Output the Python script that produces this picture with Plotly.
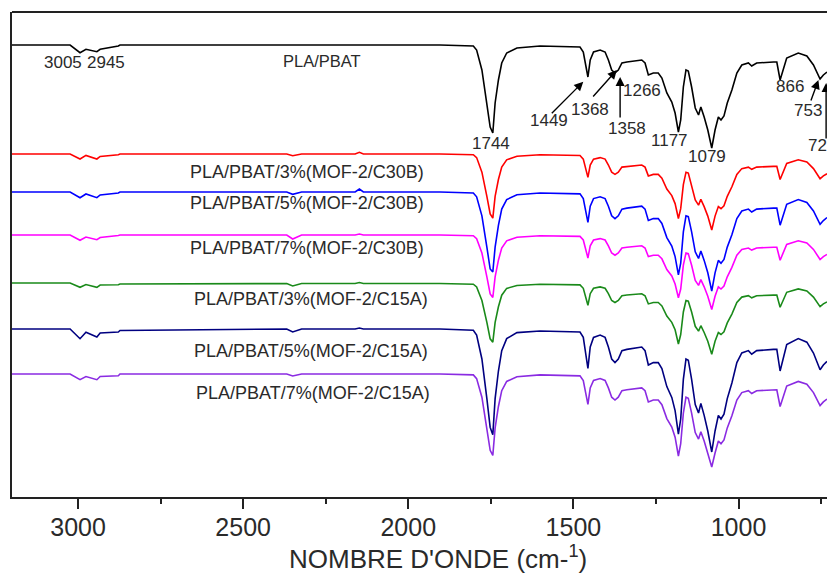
import plotly.graph_objects as go

# Wavenumbers (cm-1) shared by every spectrum
wavenumber = [3200, 3040, 3024, 2994, 2976, 2943, 2933, 2878, 2873, 2368, 2350, 2323, 2161, 2148, 2136,
              1904, 1803, 1793, 1777, 1762, 1752, 1744, 1737, 1727, 1717, 1702, 1671, 1601, 1480, 1470,
              1456, 1449, 1439, 1419, 1404, 1394, 1384, 1374, 1364, 1353, 1338, 1293, 1283, 1273, 1258,
              1243, 1232, 1217, 1202, 1192, 1182, 1175, 1167, 1159, 1152, 1142, 1131, 1121, 1114, 1104,
              1093, 1081, 1071, 1061, 1053, 1044, 1034, 1020, 1005, 990, 970, 960, 945, 894, 884,
              874, 864, 854, 819, 793, 773, 753, 743, 732]

# Stacked transmittance (offset, arbitrary units)
pla_pbat = [452, 452, 452, 444.3, 447.7, 445.3, 447.7, 451, 452, 452, 452, 452, 452, 452, 452,
            452, 451, 447, 427, 394, 370, 364, 394, 417, 434, 444, 449, 451, 450, 445,
            420, 437, 445, 447, 445, 437, 427, 424, 427, 434, 435, 437, 434, 422, 424,
            424, 419, 404, 395, 384, 365, 377, 410, 427, 426, 410, 389, 382, 390, 380,
            367, 349, 367, 380, 377, 381, 394, 407, 424, 432, 434, 431, 434, 435, 435,
            417, 427, 439, 444, 441, 432, 418, 422, 425]

c30b_3 = [343, 343, 343, 338, 341.6, 338, 340.6, 342.3, 343, 343, 341.3, 343, 343, 344.7, 343,
          343, 342.3, 339.4, 324.8, 300.7, 283.1, 278.8, 300.7, 317.5, 329.9, 337.2, 340.8, 342.3, 341.5, 337.9,
          319.6, 332, 337.9, 339.4, 337.9, 332, 324.8, 322.6, 324.8, 329.9, 330.6, 332, 329.9, 321.1, 322.6,
          322.6, 318.9, 308, 301.4, 293.4, 278.5, 288.3, 312.3, 324.8, 324, 312.3, 297, 291.9, 297.7, 290.4,
          280.9, 267, 280.9, 290.4, 288.3, 291.2, 300.7, 310.2, 322.6, 328.4, 329.9, 327.7, 329.9, 330.6, 330.6,
          317.5, 324.8, 333.5, 337.2, 335, 328.4, 318.2, 321.1, 323.3]

c30b_5 = [305, 305, 305, 299.3, 303, 299.3, 302, 304, 305, 305, 302.7, 305, 305, 308, 305,
          305, 304, 300.2, 281.2, 249.9, 228, 225, 249.9, 271.7, 287.9, 297.4, 302.2, 304, 303.1, 298.4,
          274.6, 290.8, 298.4, 300.2, 298.4, 290.8, 281.2, 278.4, 281.2, 287.9, 288.9, 290.8, 287.9, 276.5, 278.4,
          278.4, 273.6, 259.4, 250.9, 240.4, 222.2, 233.8, 265.1, 281.2, 280.3, 265.1, 245.2, 238.5, 246.1, 236.6,
          224.2, 206, 224.2, 236.6, 233.8, 237.6, 249.9, 262.2, 278.4, 286, 287.9, 285, 287.9, 288.9, 288.9,
          271.8, 281.2, 292.7, 297.4, 294.6, 286, 272.7, 276.5, 279.4]

c30b_7 = [262, 262, 262, 256.7, 260, 257.3, 259.5, 261.5, 262, 262, 258, 262, 262, 263, 262,
          262, 261.3, 258.4, 244, 220.2, 203, 199.5, 220.2, 236.8, 249, 256.2, 259.8, 261.3, 260.6, 257,
          239, 251.2, 257, 258.4, 257, 251.2, 244, 241.8, 244, 249, 249.8, 251.2, 249, 240.4, 241.8,
          241.8, 238.2, 227.4, 221, 213, 199.2, 208, 231.8, 244, 243.3, 231.8, 216.6, 211.6, 217.4, 210.2,
          200.8, 187.5, 200.8, 210.2, 208, 210.9, 220.2, 229.6, 241.8, 247.6, 249, 246.9, 249, 249.8, 249.8,
          236.8, 244, 252.6, 256.2, 254.1, 247.6, 237.5, 240.4, 242.6]

c15a_3 = [214, 214, 214, 209.7, 212.5, 209.7, 212, 212.3, 213, 213.5, 211, 213.5, 213.5, 214.5, 213.5,
          213.5, 212.8, 210.1, 196.5, 174.6, 158.2, 154.8, 174.6, 190.2, 201.8, 208.6, 211.5, 212.8, 212.1, 208.7,
          191.7, 203.3, 208.7, 210.1, 208.7, 203.3, 196.5, 194.5, 196.5, 201.3, 202, 203.3, 201.3, 193.1, 194.5,
          194.5, 191.1, 180.9, 174.7, 167.3, 153, 162.5, 185, 196.5, 195.8, 185, 170.7, 165.9, 171.3, 164.5,
          155.7, 142.8, 155.7, 164.5, 162.5, 165.2, 174.1, 182.9, 194.5, 199.9, 201.3, 199.2, 201.3, 201.9, 201.9,
          189.7, 196.5, 204.7, 208.1, 206, 199.9, 190.4, 193.1, 195.1]

c15a_5 = [168, 168, 168, 158.3, 164.7, 160, 164, 165, 166.5, 168, 165, 168, 168, 169, 168,
          168, 166.8, 162, 138, 98.4, 69.6, 62.2, 98.4, 126, 146.4, 158.4, 164.4, 166, 165, 159.6,
          128.5, 150, 159.6, 162, 159.6, 150, 138, 134.4, 138, 146.4, 147.6, 150, 146.4, 132, 134.4,
          134.4, 128.4, 110.4, 99.6, 86.4, 62.8, 78, 117.6, 138, 136.8, 117.6, 92.4, 84, 93.6, 81.6,
          66, 45, 66, 81.6, 78, 82.8, 98.4, 114, 134.4, 144, 146.4, 142.8, 146.4, 147.6, 147.6,
          126, 138, 152.4, 158.4, 154.8, 144, 127.2, 132, 135.6]

c15a_7 = [123, 123, 123, 117.3, 120.5, 117.3, 120.5, 121.3, 123, 123, 121, 123, 123, 123.5, 123,
          123, 122.1, 118.4, 99.8, 69.1, 46.7, 41.6, 69.1, 90.5, 106.3, 115.6, 120.2, 122.1, 121.1, 116.5,
          92.6, 109.1, 116.5, 118.4, 116.5, 109.1, 99.8, 97, 99.8, 106.3, 107.2, 109.1, 106.3, 95.1, 97,
          97, 92.3, 78.4, 70, 59.8, 41, 53.3, 83.9, 99.8, 98.8, 83.9, 64.4, 57.9, 65.3, 56,
          44, 30, 44, 56, 53.3, 57, 69.1, 81.2, 97, 104.4, 106.3, 103.5, 106.3, 107.2, 107.2,
          90.5, 99.8, 110.9, 115.6, 112.8, 104.4, 91.4, 95.1, 97.9]

series_names = ["PLA/PBAT", "PLA/PBAT/3%(MOF-2/C30B)", "PLA/PBAT/5%(MOF-2/C30B)",
                "PLA/PBAT/7%(MOF-2/C30B)", "PLA/PBAT/3%(MOF-2/C15A)",
                "PLA/PBAT/5%(MOF-2/C15A)", "PLA/PBAT/7%(MOF-2/C15A)"]
series_values = [pla_pbat, c30b_3, c30b_5, c30b_7, c15a_3, c15a_5, c15a_7]
series_colors = ["#000000", "#ff0000", "#0000ff", "#ff00ff", "#1a8a1a", "#000080", "#8a2be2"]

# label anchor (wavenumber, offset value) and font size for each series name
label_x = [2262, 2308, 2308, 2308, 2294, 2294, 2288]
label_y = [436, 325.3, 293.7, 248.7, 197.7, 146.3, 103.7]
label_size = [16.5, 18, 18, 18, 18, 18, 18]

# peak labels
peak_text = ["3005", "2945", "1744", "1449", "1368", "1358", "1266", "1177", "1079", "866", "753", "725"]
peak_x = [3047, 2915, 1750, 1574, 1449, 1337, 1292, 1209, 1094, 844, 789, 747]
peak_y = [435, 435, 353.7, 377, 387.7, 368.7, 407, 356.3, 340.3, 411, 387, 352]

# arrows: tip (wavenumber, value) and tail offset in px
arrow_x = [1470, 1368.5, 1358.5, 758, 734.7]
arrow_y = [415.3, 427, 420, 417, 414]
arrow_ax = [-33, -25, 0, -8, 0]
arrow_ay = [33, 28, 42, 22, 57]

FONT = "Liberation Sans, Arial, sans-serif"
TXT = "#2a2a2a"

fig = go.Figure()
for name, vals, col in zip(series_names, series_values, series_colors):
    fig.add_trace(go.Scatter(x=wavenumber, y=vals, mode="lines", name=name,
                             line=dict(color=col, width=1.6), showlegend=False))

annotations = []
for name, lx, ly, fs in zip(series_names, label_x, label_y, label_size):
    annotations.append(dict(x=lx, y=ly, text=name, showarrow=False,
                            font=dict(family=FONT, size=fs, color=TXT)))
for t, px, py in zip(peak_text, peak_x, peak_y):
    annotations.append(dict(x=px, y=py, text=t, showarrow=False,
                            font=dict(family=FONT, size=17, color=TXT)))
for tx, ty, axo, ayo in zip(arrow_x, arrow_y, arrow_ax, arrow_ay):
    annotations.append(dict(x=tx, y=ty, ax=axo, ay=ayo, text="", showarrow=True,
                            arrowhead=2, arrowsize=1.3, arrowwidth=1.4, arrowcolor="#000000"))

pw, ph = 827 - 12, 576 - 12 - 79
annotations.append(dict(x=(438 - 12) / pw, y=1 - (557 - 12) / ph, xref="paper", yref="paper",
                        yanchor="middle", text="NOMBRE D'ONDE (cm-<sup>1</sup>)",
                        showarrow=False, font=dict(family=FONT, size=26, color=TXT)))

fig.update_layout(
    width=827, height=576,
    margin=dict(l=12, r=0, t=12, b=79),
    paper_bgcolor="white", plot_bgcolor="white",
    xaxis=dict(range=[3200, 732], tickmode="array", tickvals=[3000, 2500, 2000, 1500, 1000],
               ticks="outside", ticklen=10, tickwidth=2, tickcolor="#222",
               minor=dict(tickvals=[2750, 2250, 1750, 1250, 750], ticks="outside", ticklen=5,
                          tickwidth=2, tickcolor="#222"),
               showline=True, linecolor="#222", linewidth=2, showgrid=False, zeroline=False,
               ticklabelstandoff=-3,
               tickfont=dict(family=FONT, size=25, color=TXT)),
    yaxis=dict(range=[0, 485], showticklabels=False, ticks="", showline=True, linecolor="#222",
               linewidth=2, showgrid=False, zeroline=False),
    shapes=[dict(type="line", xref="paper", yref="paper", x0=0, x1=1, y0=1, y1=1,
                 line=dict(color="#222", width=2))],
    annotations=annotations,
)

fig.write_html("out.html")
